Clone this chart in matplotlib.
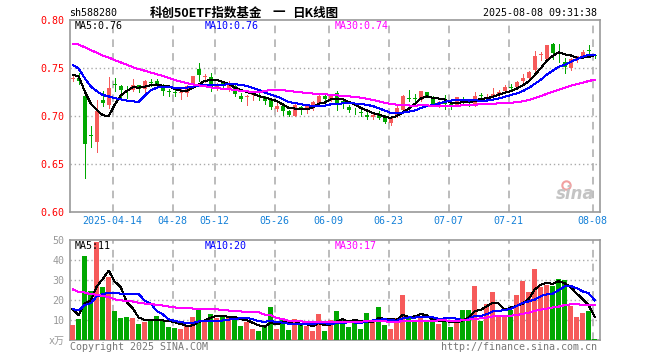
import numpy as np
import pandas as pd
import matplotlib.pyplot as plt

plt.rcParams['font.family'] = ['DejaVu Sans Mono', 'Noto Sans CJK SC']

# daily OHLC, 2025-04-02 .. 2025-08-08 (88 trading days)
open_ = [0.7390, 0.7400, 0.7211, 0.6805, 0.6730, 0.7170, 0.7111, 0.7330, 0.7314, 0.7294,
         0.7266, 0.7325, 0.7280, 0.7352, 0.7369, 0.7325, 0.7260, 0.7242, 0.7239, 0.7239,
         0.7325, 0.7487, 0.7408, 0.7411, 0.7304, 0.7348, 0.7290, 0.7314, 0.7211, 0.7202,
         0.7219, 0.7222, 0.7188, 0.7163, 0.7074, 0.7101, 0.7050, 0.7005, 0.7095, 0.7067,
         0.7101, 0.7136, 0.7211, 0.7170, 0.7239, 0.7158, 0.7091, 0.7053, 0.7042, 0.7015,
         0.6992, 0.7015, 0.6998, 0.6930, 0.6998, 0.7067, 0.7183, 0.7183, 0.7163, 0.7249,
         0.7198, 0.7119, 0.7129, 0.7129, 0.7111, 0.7180, 0.7139, 0.7101, 0.7214, 0.7215,
         0.7204, 0.7215, 0.7263, 0.7300, 0.7297, 0.7366, 0.7394, 0.7479, 0.7638, 0.7593,
         0.7755, 0.7660, 0.7565, 0.7497, 0.7582, 0.7624, 0.7681, 0.7635]
high = [0.7420, 0.7445, 0.7215, 0.6895, 0.7163, 0.7256, 0.7404, 0.7394, 0.7318, 0.7314,
        0.7383, 0.7328, 0.7370, 0.7383, 0.7383, 0.7330, 0.7280, 0.7266, 0.7280, 0.7325,
        0.7418, 0.7555, 0.7438, 0.7445, 0.7342, 0.7369, 0.7369, 0.7325, 0.7239, 0.7222,
        0.7245, 0.7239, 0.7211, 0.7188, 0.7142, 0.7129, 0.7060, 0.7142, 0.7101, 0.7129,
        0.7153, 0.7222, 0.7239, 0.7230, 0.7256, 0.7188, 0.7119, 0.7085, 0.7067, 0.7050,
        0.7033, 0.7050, 0.7015, 0.6992, 0.7101, 0.7222, 0.7273, 0.7232, 0.7263, 0.7252,
        0.7204, 0.7153, 0.7222, 0.7142, 0.7200, 0.7194, 0.7170, 0.7249, 0.7239, 0.7232,
        0.7290, 0.7273, 0.7325, 0.7332, 0.7366, 0.7435, 0.7469, 0.7675, 0.7668, 0.7744,
        0.7760, 0.7747, 0.7600, 0.7600, 0.7627, 0.7686, 0.7737, 0.7650]
low = [0.7360, 0.7330, 0.6353, 0.6682, 0.6627, 0.7101, 0.7085, 0.7256, 0.7198, 0.7188,
       0.7256, 0.7245, 0.7253, 0.7314, 0.7291, 0.7222, 0.7211, 0.7211, 0.7177, 0.7211,
       0.7290, 0.7369, 0.7359, 0.7256, 0.7266, 0.7280, 0.7256, 0.7211, 0.7153, 0.7119,
       0.7163, 0.7170, 0.7129, 0.7074, 0.7050, 0.7015, 0.6998, 0.6998, 0.7026, 0.7033,
       0.7067, 0.7119, 0.7163, 0.7160, 0.7067, 0.7085, 0.7039, 0.7026, 0.7005, 0.6964,
       0.6964, 0.6971, 0.6923, 0.6902, 0.6992, 0.7050, 0.7153, 0.7153, 0.7153, 0.7195,
       0.7119, 0.7095, 0.7074, 0.7074, 0.7101, 0.7111, 0.7101, 0.7101, 0.7188, 0.7188,
       0.7194, 0.7201, 0.7249, 0.7256, 0.7283, 0.7352, 0.7387, 0.7469, 0.7582, 0.7582,
       0.7593, 0.7565, 0.7452, 0.7480, 0.7565, 0.7617, 0.7634, 0.7600]
close = [0.7400, 0.7360, 0.6706, 0.6795, 0.7050, 0.7136, 0.7291, 0.7322, 0.7266, 0.7288,
         0.7325, 0.7280, 0.7366, 0.7345, 0.7325, 0.7256, 0.7254, 0.7237, 0.7249, 0.7314,
         0.7418, 0.7428, 0.7414, 0.7307, 0.7310, 0.7314, 0.7325, 0.7232, 0.7177, 0.7208,
         0.7225, 0.7198, 0.7153, 0.7095, 0.7108, 0.7050, 0.7015, 0.7119, 0.7060, 0.7108,
         0.7142, 0.7211, 0.7177, 0.7222, 0.7119, 0.7150, 0.7067, 0.7047, 0.7036, 0.6992,
         0.7015, 0.6981, 0.6936, 0.6981, 0.7085, 0.7205, 0.7177, 0.7177, 0.7263, 0.7198,
         0.7129, 0.7142, 0.7123, 0.7101, 0.7194, 0.7153, 0.7133, 0.7204, 0.7208, 0.7222,
         0.7232, 0.7249, 0.7297, 0.7294, 0.7352, 0.7400, 0.7462, 0.7627, 0.7644, 0.7744,
         0.7658, 0.7650, 0.7513, 0.7590, 0.7624, 0.7668, 0.7675, 0.7625]
# volume, 万
volume = [7.5, 10.5, 42, 24.5, 49, 26.5, 31.5, 14.5, 11, 11.5,
          11, 8, 9, 10, 12, 10, 6.5, 6, 5.5, 7,
          11.5, 15, 9.5, 13, 11, 12.5, 11, 10.5, 7, 9,
          5.5, 4.5, 7.5, 16.5, 5.5, 10, 5, 10.5, 7.5, 7,
          4.5, 13, 4.5, 10, 14.5, 10, 6.5, 10, 5.5, 13.5,
          10, 16.5, 7.5, 5.5, 11, 22.5, 11, 9, 11, 9,
          10.5, 8, 10.5, 6.5, 9, 15, 15, 27, 9.5, 18,
          24, 12.5, 11.5, 15, 22.5, 29.5, 24, 35.5, 26.5, 27.5,
          27, 30.5, 30, 17, 11.5, 13.5, 14.5, 0.5]

# rough estimates of the 29 sessions before the window (only to warm up the MAs)
prev_close = [0.745, 0.755, 0.770, 0.785, 0.800, 0.795, 0.810, 0.800, 0.800, 0.810,
              0.790, 0.785, 0.790, 0.785, 0.780, 0.790, 0.785, 0.780, 0.775, 0.780,
              0.775, 0.770, 0.765, 0.755, 0.7525, 0.745, 0.748, 0.742, 0.740]
prev_volume = [48, 52, 50, 55, 45, 50, 48.5, 24, 22, 20,
               25, 21, 19, 23, 20, 22, 19, 13, 14, 13.5,
               18, 14, 16, 15, 14.5, 25.5, 13, 17.5, 14]

tick_pos = [7, 17, 24, 34, 43, 53, 63, 73, 87]
tick_labels = ['2025-04-14', '04-28', '05-12', '05-26', '06-09', '06-23', '07-07', '07-21', '08-08']

RED = '#f65a5a'
GREEN = '#00a800'
GRID = '#aaaaaa'
FRAME = '#999999'
LW = 0.72  # about one pixel


def moving_avg(prev, values, n):
    s = pd.Series(list(prev) + list(values))
    return s.rolling(n).mean().values[len(prev):]


o, h, l, c = map(np.array, (open_, high, low, close))
x = np.arange(len(c))
colors = np.where(c >= o, RED, GREEN)

fig = plt.figure(figsize=(6.6, 3.6), dpi=100)
ax = fig.add_axes([70/660, 148/360, 530/660, 192/360])
axv = fig.add_axes([70/660, 20/360, 530/660, 100/360])

# candles
ax.vlines(x, l, h, colors=colors, lw=LW, zorder=3, antialiased=False)
body = np.maximum(np.abs(c - o), 0.0008)
ax.bar(x, body, 0.7, bottom=np.minimum(o, c), color=colors, lw=0, zorder=3)

ma_cols = [('MA5', 5, 'black'), ('MA10', 10, '#0000ff'), ('MA30', 30, '#ff00ff')]
for name, n, col in ma_cols:
    ax.plot(x, moving_avg(prev_close, c, n), color=col, lw=LW, zorder=4, antialiased=False)
    axv.plot(x, moving_avg(prev_volume, volume, n), color=col, lw=LW, zorder=4, antialiased=False)

axv.bar(x, volume, 0.8, color=colors, lw=0, zorder=3)

xmin, xmax = -0.45, 87.88
gx = np.array(tick_pos) - 0.35
for a in (ax, axv):
    a.set_xlim(xmin, xmax)
    for g in gx:
        a.axvline(g, color=GRID, ls=(0, (5, 4)), lw=1.1, zorder=1)
    for s in a.spines.values():
        s.set_color(FRAME)
        s.set_linewidth(1.2)
    a.tick_params(length=0)

ax.set_ylim(0.60, 0.80)
for p in [0.65, 0.70, 0.75]:
    ax.axhline(p, color=GRID, ls=(0, (1, 2)), lw=1, zorder=1)
ax.set_yticks([0.60, 0.65, 0.70, 0.75, 0.80])
ax.set_yticklabels(['0.60', '0.65', '0.70', '0.75', '0.80'])
ax.tick_params(axis='y', labelcolor='red', labelsize=7.2, pad=4)
ax.set_xticks(gx)
ax.set_xticklabels(tick_labels)
ax.tick_params(axis='x', labelcolor='#1480d8', labelsize=7.2, pad=3)

axv.set_ylim(0, 50)
for p in [10, 20, 30, 40]:
    axv.axhline(p, color=GRID, ls=(0, (1, 2)), lw=1, zorder=1)
axv.set_yticks([0, 10, 20, 30, 40, 50])
axv.set_yticklabels(['x万', '10', '20', '30', '40', '50'])
axv.tick_params(axis='y', labelcolor='#999999', labelsize=7.2, pad=4)
axv.set_xticks([])


def ftext(px, py, s, size=7.2, **kw):
    fig.text(px/660, 1 - py/360, s, va='center', fontsize=size, **kw)


cjk = ['Noto Sans CJK SC', 'DejaVu Sans']
ftext(69, 13, 'sh588280')
ftext(150, 13, '科创50ETF指数基金', size=9, fontweight='bold', family=cjk)
ftext(279, 13, '一', ha='center', size=9, fontweight='bold', family=cjk)
ftext(292, 13, '日K线图', size=9, fontweight='bold', family=cjk)
ftext(597, 13, '2025-08-08 09:31:38', ha='right')

xs = [75, 205, 335]
for (name, n, col), px in zip(ma_cols, xs):
    v = moving_avg(prev_close, c, n)[-1]
    ftext(px, 26, f'{name}:{v:.2f}', color=col)
    vv = moving_avg(prev_volume, volume, n)[-1]
    ftext(px, 246, f'{name}:{round(vv)}', color=col)

ftext(70, 347, 'Copyright 2025 SINA.COM', color='#777777')
ftext(597, 347, 'http://finance.sina.com.cn', ha='right', color='#777777')

# sina watermark
fig.text(575/660, 1 - 194/360, 'sina', ha='center', va='center', fontsize=12,
         style='italic', fontweight='bold', color='#c4c4c4', family='DejaVu Sans')
ax.plot(0.935, 0.14, 'o', transform=ax.transAxes, ms=6, mfc='none', mec='#f2a0a0', mew=1.5)

fig.savefig('out.png', dpi=100)
